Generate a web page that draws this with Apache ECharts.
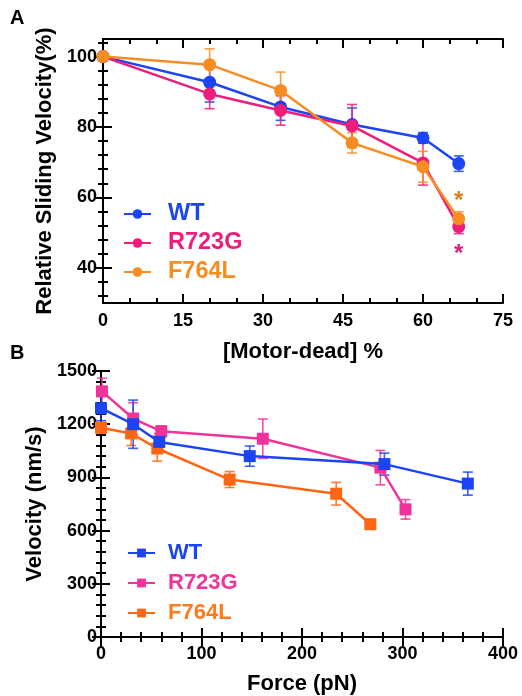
<!DOCTYPE html>
<html>
<head>
<meta charset="utf-8">
<script src="https://cdn.jsdelivr.net/npm/echarts@6/dist/echarts.min.js"></script>
<style>
  html, body { margin: 0; padding: 0; background: #fff; }
  #chart { width: 522px; height: 696px; }
</style>
</head>
<body>
<div id="chart"></div>
<script>
// panel A: relative sliding velocity vs % motor-dead
var pctA = [0, 20, 33.3, 46.7, 60, 66.7];
var wtA = [100, 92.7, 85.7, 80.7, 76.9, 69.6];
var wtAErr = [0, 5.6, 3.8, 4.7, 1.5, 2.2];
var r723gA = [100, 89.4, 84.7, 80.3, 69.8, 51.7];
var r723gAErr = [0, 4.2, 4.2, 6.1, 6.3, 2.0];
var f764lA = [100, 97.7, 90.4, 75.5, 68.7, 53.9];
var f764lAErr = [0, 4.5, 5.2, 2.9, 4.4, 2.0];
var starsA = [[66.7, 60.2, 'F764L'], [66.7, 45.3, 'R723G']];
var yTicksA = [40, 60, 80, 100];
var yMinorA = [32, 36, 44, 48, 52, 56, 64, 68, 72, 76, 84, 88, 92, 96, 104];

// panel B: velocity vs force
var wtForce = [0, 32, 58, 148, 282, 365];
var wtVel = [1290, 1200, 1100, 1020, 975, 865];
var wtVelErr = [70, 136, 47, 57, 62, 65];
var r723gForce = [1, 32, 60, 161, 278, 303];
var r723gVel = [1385, 1232, 1160, 1118, 955, 720];
var r723gVelErr = [75, 89, 30, 111, 97, 55];
var f764lForce = [0, 30, 56, 128, 234, 268];
var f764lVel = [1180, 1148, 1063, 888, 808, 636];
var f764lVelErr = [30, 68, 71, 45, 64, 0];

var FONT = '"Liberation Sans", Arial, sans-serif';
var blue = '#1b44f2', pinkA = '#ee1d7c', orangeA = '#f78d21';
var pinkB = '#f0339a', orangeB = '#ff6614';

function pts(xs, ys) {
  return xs.map(function (x, i) { return [x, ys[i]]; });
}
function errs(xs, ys, es) {
  return xs.map(function (x, i) { return [x, ys[i] - es[i], ys[i] + es[i]]; });
}

function errRender(color) {
  return function (params, api) {
    var x = api.value(0);
    var lo = api.coord([x, api.value(1)]);
    var hi = api.coord([x, api.value(2)]);
    var w = 5;
    var st = { stroke: color, lineWidth: 1.6, opacity: 0.85 };
    return {
      type: 'group',
      children: [
        { type: 'line', shape: { x1: lo[0], y1: lo[1], x2: hi[0], y2: hi[1] }, style: st },
        { type: 'line', shape: { x1: lo[0] - w, y1: lo[1], x2: lo[0] + w, y2: lo[1] }, style: st },
        { type: 'line', shape: { x1: hi[0] - w, y1: hi[1], x2: hi[0] + w, y2: hi[1] }, style: st }
      ]
    };
  };
}

var labelStyle = { color: '#000', fontSize: 18, fontWeight: 'bold', fontFamily: FONT, formatter: function (v) { return String(v); } };
var nameStyle = { color: '#000', fontSize: 22, fontWeight: 'bold', fontFamily: FONT };

// one axis layer: main (line + long ticks, maybe labels) or minor (short ticks only)
function ax(grid, min, max, pos, opt) {
  var a = {
    type: 'value', gridIndex: grid, min: min, max: max, position: pos,
    axisLine: { show: !opt.minor, lineStyle: { color: '#000', width: 2 } },
    axisTick: { show: true, inside: true, length: opt.minor ? 5 : 9, lineStyle: { color: '#000', width: 2 } },
    axisLabel: { show: false },
    splitLine: { show: false }
  };
  if (opt.interval) a.interval = opt.interval;
  if (opt.ticks) a.axisTick.customValues = opt.ticks;
  if (opt.labels) {
    a.axisLabel = Object.assign({ margin: opt.margin }, labelStyle);
    if (opt.ticks) a.axisLabel.customValues = opt.ticks;
  }
  if (opt.name) {
    a.name = opt.name;
    a.nameLocation = 'middle';
    a.nameGap = opt.nameGap;
    a.nameTextStyle = nameStyle;
  }
  return a;
}

function legendText(name, color) {
  return { name: name, textStyle: { color: color } };
}

var chart = echarts.init(document.getElementById('chart'), null, { renderer: 'canvas' });

chart.setOption({
  backgroundColor: '#fff',
  animation: false,
  textStyle: { fontFamily: FONT },
  graphic: [
    { type: 'text', left: 10, top: 8, style: { text: 'A', fontSize: 20, fontWeight: 'bold', fill: '#000', fontFamily: FONT } },
    { type: 'text', left: 10, top: 343, style: { text: 'B', fontSize: 20, fontWeight: 'bold', fill: '#000', fontFamily: FONT } }
  ],
  grid: [
    { left: 103, top: 39, width: 400, height: 264 },
    { left: 101, top: 371, width: 402, height: 267 }
  ],
  legend: [
    {
      left: 123, top: 202, orient: 'vertical', padding: 0, itemWidth: 27, itemHeight: 12, itemGap: 5,
      textStyle: { fontSize: 23.5, fontWeight: 'bold', fontFamily: FONT, lineHeight: 24, padding: [0, 0, 0, 12] },
      data: [legendText('WT', blue), legendText('R723G', pinkA), legendText('F764L', orangeA)]
    },
    {
      left: 127, top: 541, orient: 'vertical', padding: 0, itemWidth: 27, itemHeight: 11, itemGap: 6,
      textStyle: { fontSize: 22, fontWeight: 'bold', fontFamily: FONT, lineHeight: 24, padding: [0, 0, 0, 8] },
      data: [legendText('WT ', blue), legendText('R723G ', pinkB), legendText('F764L ', '#ff7a1e')]
    }
  ],
  xAxis: [
    ax(0, 0, 75, 'bottom', { interval: 15, labels: true, margin: 9, name: '[Motor-dead] %', nameGap: 38 }),
    ax(0, 0, 75, 'top', { interval: 15 }),
    ax(0, 0, 75, 'bottom', { interval: 5, minor: true }),
    ax(0, 0, 75, 'top', { interval: 5, minor: true }),
    ax(1, 0, 400, 'bottom', { interval: 100, labels: true, margin: 8, name: 'Force (pN)', nameGap: 36 }),
    ax(1, 0, 400, 'top', { interval: 100 }),
    ax(1, 0, 400, 'bottom', { interval: 20, minor: true }),
    ax(1, 0, 400, 'top', { interval: 20, minor: true })
  ],
  yAxis: [
    ax(0, 30, 105, 'left', { ticks: yTicksA, labels: true, margin: 6, name: 'Relative Sliding Velocity(%)', nameGap: 43 }),
    ax(0, 30, 105, 'right', { ticks: yTicksA }),
    ax(0, 30, 105, 'left', { ticks: yMinorA, minor: true }),
    ax(0, 30, 105, 'right', { ticks: yMinorA, minor: true }),
    ax(1, 0, 1500, 'left', { interval: 300, labels: true, margin: 4, name: 'Velocity (nm/s)', nameGap: 53 }),
    ax(1, 0, 1500, 'right', { interval: 300 }),
    ax(1, 0, 1500, 'left', { interval: 60, minor: true }),
    ax(1, 0, 1500, 'right', { interval: 60, minor: true })
  ],
  series: [
    // panel A error bars
    { type: 'custom', xAxisIndex: 0, yAxisIndex: 0, renderItem: errRender(blue), data: errs(pctA, wtA, wtAErr), encode: { x: 0, y: [1, 2] }, z: 1 },
    { type: 'custom', xAxisIndex: 0, yAxisIndex: 0, renderItem: errRender(pinkA), data: errs(pctA, r723gA, r723gAErr), encode: { x: 0, y: [1, 2] }, z: 1 },
    { type: 'custom', xAxisIndex: 0, yAxisIndex: 0, renderItem: errRender(orangeA), data: errs(pctA, f764lA, f764lAErr), encode: { x: 0, y: [1, 2] }, z: 1 },
    // panel A lines
    { name: 'WT', type: 'line', xAxisIndex: 0, yAxisIndex: 0, data: pts(pctA, wtA), symbol: 'circle', symbolSize: 13, color: blue, lineStyle: { width: 2.5 }, z: 2 },
    { name: 'R723G', type: 'line', xAxisIndex: 0, yAxisIndex: 0, data: pts(pctA, r723gA), symbol: 'circle', symbolSize: 13, color: pinkA, lineStyle: { width: 2.5 }, z: 3 },
    { name: 'F764L', type: 'line', xAxisIndex: 0, yAxisIndex: 0, data: pts(pctA, f764lA), symbol: 'circle', symbolSize: 13, color: orangeA, lineStyle: { width: 2.5 }, z: 4 },
    // significance stars
    {
      type: 'custom', xAxisIndex: 0, yAxisIndex: 0, data: starsA, z: 5,
      renderItem: function (params, api) {
        var p = api.coord([api.value(0), api.value(1)]);
        var c = starsA[params.dataIndex][2] === 'F764L' ? '#e0800f' : '#e0197d';
        return { type: 'text', x: p[0], y: p[1] + 5, style: { text: '*', fill: c, fontSize: 24, fontWeight: 'bold', fontFamily: FONT, align: 'center', verticalAlign: 'middle' } };
      }
    },
    // panel B error bars
    { type: 'custom', xAxisIndex: 4, yAxisIndex: 4, renderItem: errRender(orangeB), data: errs(f764lForce, f764lVel, f764lVelErr), encode: { x: 0, y: [1, 2] }, z: 1 },
    { type: 'custom', xAxisIndex: 4, yAxisIndex: 4, renderItem: errRender(pinkB), data: errs(r723gForce, r723gVel, r723gVelErr), encode: { x: 0, y: [1, 2] }, z: 1 },
    { type: 'custom', xAxisIndex: 4, yAxisIndex: 4, renderItem: errRender(blue), data: errs(wtForce, wtVel, wtVelErr), encode: { x: 0, y: [1, 2] }, z: 1 },
    // panel B lines
    { name: 'F764L ', type: 'line', xAxisIndex: 4, yAxisIndex: 4, data: pts(f764lForce, f764lVel), symbol: 'rect', symbolSize: 12, color: orangeB, lineStyle: { width: 2.5 }, z: 2 },
    { name: 'R723G ', type: 'line', xAxisIndex: 4, yAxisIndex: 4, data: pts(r723gForce, r723gVel), symbol: 'rect', symbolSize: 12, color: pinkB, lineStyle: { width: 2.5 }, z: 3 },
    { name: 'WT ', type: 'line', xAxisIndex: 4, yAxisIndex: 4, data: pts(wtForce, wtVel), symbol: 'rect', symbolSize: 12, color: blue, lineStyle: { width: 2.5 }, z: 4 }
  ]
});
</script>
</body>
</html>
